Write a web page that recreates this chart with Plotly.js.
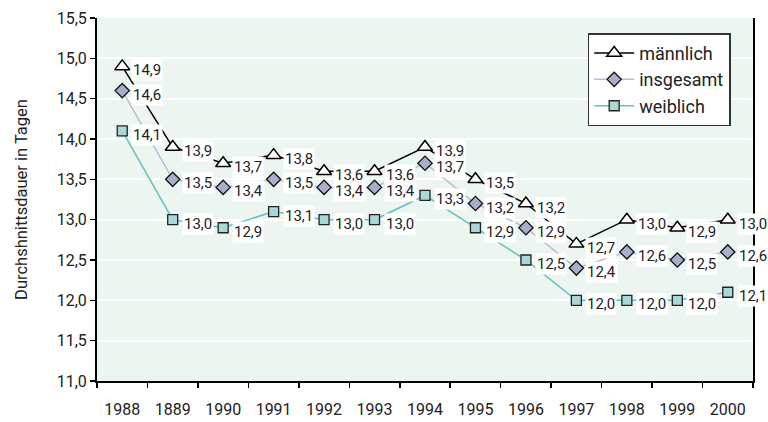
<!DOCTYPE html>
<html>
<head>
<meta charset="utf-8">
<script src="https://cdn.plot.ly/plotly-3.0.1.min.js"></script>
<style>html,body{margin:0;padding:0;background:#fff;}#chart{width:768px;height:422px;}</style>
</head>
<body>
<div id="chart"></div>
<script>
var years = ["1988","1889","1990","1991","1992","1993","1994","1995","1996","1997","1998","1999","2000"];
var maennlich = [14.9, 13.9, 13.7, 13.8, 13.6, 13.6, 13.9, 13.5, 13.2, 12.7, 13.0, 12.9, 13.0];
var insgesamt = [14.6, 13.5, 13.4, 13.5, 13.4, 13.4, 13.7, 13.2, 12.9, 12.4, 12.6, 12.5, 12.6];
var weiblich  = [14.1, 13.0, 12.9, 13.1, 13.0, 13.0, 13.3, 12.9, 12.5, 12.0, 12.0, 12.0, 12.1];
var yTicks = [11.0, 11.5, 12.0, 12.5, 13.0, 13.5, 14.0, 14.5, 15.0, 15.5];

var FONT = 'Roboto, "Liberation Sans", sans-serif';
var fmt = function(v){ return v.toFixed(1).replace('.', ','); };

var traces = [
  {x: years, y: maennlich, name: 'männlich', type: 'scatter', mode: 'lines+markers',
   line: {color: '#000000', width: 1.5},
   marker: {symbol: 'triangle-up', size: 13, color: '#ffffff', line: {color: '#000000', width: 1.5}}},
  {x: years, y: insgesamt, name: 'insgesamt', type: 'scatter', mode: 'lines+markers',
   line: {color: '#b9bcda', width: 1.5},
   marker: {symbol: 'diamond', size: 11, color: '#a9aecb', line: {color: '#111111', width: 1.3}}},
  {x: years, y: weiblich, name: 'weiblich', type: 'scatter', mode: 'lines+markers',
   line: {color: '#5cc3bd', width: 1.5},
   marker: {symbol: 'square', size: 10, color: '#a8d9d5', line: {color: '#222222', width: 1.3}}}
];

var annotations = [];
[maennlich, insgesamt, weiblich].forEach(function(series){
  series.forEach(function(v, i){
    annotations.push({x: i, y: v, xref: 'x', yref: 'y', text: fmt(v),
      showarrow: false, xanchor: 'left', yanchor: 'middle', xshift: 9, yshift: -4,
      bgcolor: '#ffffff', borderpad: 1,
      font: {family: FONT, size: 15, color: '#222222'}});
  });
});

var layout = {
  width: 768, height: 422,
  margin: {l: 97, r: 15, t: 18, b: 41},
  paper_bgcolor: '#ffffff',
  plot_bgcolor: '#edf5f1',
  separators: ',.',
  font: {family: FONT, size: 16, color: '#222222'},
  showlegend: true,
  legend: {x: 0.748, y: 0.958, xanchor: 'left', yanchor: 'top',
    bgcolor: '#ffffff', bordercolor: '#333333', borderwidth: 1.5,
    itemwidth: 40, tracegroupgap: 0,
    font: {family: FONT, size: 18, color: '#222222'}},
  xaxis: {type: 'category', range: [-0.5, 12.5], tickson: 'boundaries',
    ticks: 'outside', ticklen: 5, tickcolor: '#000000', tickwidth: 1.5,
    showline: true, linecolor: '#000000', linewidth: 2, tickangle: 0,
    showgrid: false, zeroline: false, ticklabelstandoff: 13,
    tickfont: {family: FONT, size: 16, color: '#222222'}},
  yaxis: {range: [11.0, 15.5], tickvals: yTicks, tickformat: '.1f',
    ticks: 'outside', ticklen: 5, tickcolor: '#000000', tickwidth: 1.5,
    showline: true, linecolor: '#000000', linewidth: 2, mirror: true,
    showgrid: true, gridcolor: '#ffffff', gridwidth: 2, zeroline: false,
    tickfont: {family: FONT, size: 16, color: '#222222'},
    title: {text: 'Durchshnittsdauer in Tagen', standoff: 25,
      font: {family: FONT, size: 16.5, color: '#222222'}}},
  annotations: annotations
};

Plotly.newPlot('chart', traces, layout, {displayModeBar: false, staticPlot: true});
</script>
</body>
</html>
